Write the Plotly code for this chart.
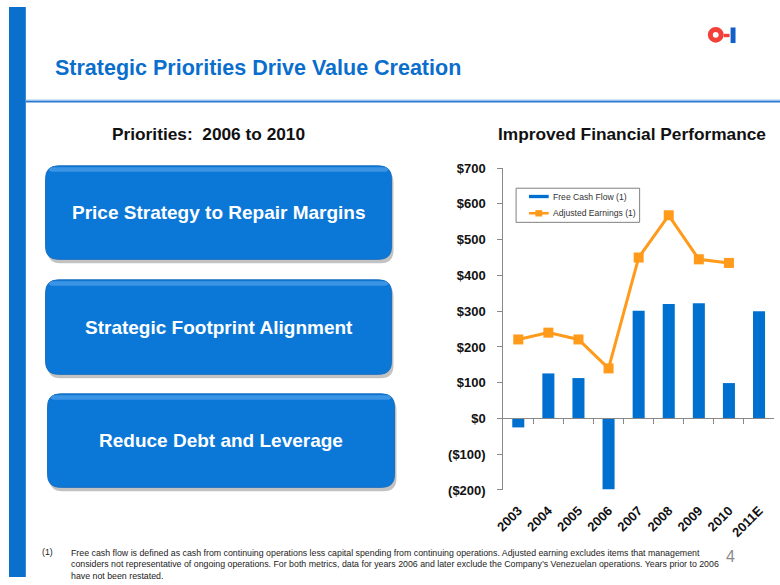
import plotly.graph_objects as go

# ---- data ----
years = ["2003", "2004", "2005", "2006", "2007", "2008", "2009", "2010", "2011E"]
free_cash_flow = [-25, 126, 113, -198, 301, 320, 322, 99, 300]
adjusted_earnings = [221, 240, 221, 140, 450, 568, 445, 435, None]
y_tickvals = [-200, -100, 0, 100, 200, 300, 400, 500, 600, 700]
y_ticktext = ["($200)", "($100)", "$0", "$100", "$200", "$300", "$400", "$500", "$600", "$700"]
series_names = ["Free Cash Flow (1)", "Adjusted Earnings (1)"]
priorities = ["Price Strategy to Repair Margins", "Strategic Footprint Alignment", "Reduce Debt and Leverage"]

W, H = 780, 585
FONT = "Liberation Sans, Arial, sans-serif"
BLUE = "#0070D0"
ORANGE = "#FF9A1A"


def px(x):
    return x / W


def py(y):
    return 1 - y / H


# plot area in pixels
PL, PR, PT, PB = 500, 774, 165.4, 495.7
ymin, ymax = -200, 700
zero_frac = py(PB) + (0 - ymin) / (ymax - ymin) * (py(PT) - py(PB))

fig = go.Figure()
fig.add_trace(go.Bar(
    x=years, y=free_cash_flow, name=series_names[0],
    marker=dict(color=BLUE, line=dict(width=0)), width=0.4, showlegend=False,
))
fig.add_trace(go.Scatter(
    x=years, y=adjusted_earnings, name=series_names[1], mode="lines+markers",
    line=dict(color=ORANGE, width=3), marker=dict(symbol="square", size=10, color=ORANGE),
    connectgaps=False, showlegend=False,
))
# helper trace to activate the zero-line axis
fig.add_trace(go.Scatter(x=[], y=[], xaxis="x2", yaxis="y", showlegend=False, hoverinfo="skip"))


def rrect(x0, y0, x1, y1, r):
    rx, ry = r / W, r / H
    X0, X1 = px(x0), px(x1)
    Y0, Y1 = py(y0), py(y1)  # Y0 top, Y1 bottom (paper)
    return (f"M {X0+rx},{Y0} L {X1-rx},{Y0} Q {X1},{Y0} {X1},{Y0-ry} "
            f"L {X1},{Y1+ry} Q {X1},{Y1} {X1-rx},{Y1} L {X0+rx},{Y1} "
            f"Q {X0},{Y1} {X0},{Y1+ry} L {X0},{Y0-ry} Q {X0},{Y0} {X0+rx},{Y0} Z")


def prect(x0, y0, x1, y1, color, **kw):
    return dict(type="rect", xref="paper", yref="paper", x0=px(x0), x1=px(x1), y0=py(y1), y1=py(y0),
                fillcolor=color, line=dict(width=0), **kw)


shapes = []
# left vertical bar
shapes.append(dict(type="rect", xref="paper", yref="paper", x0=0, x1=px(17), y0=0, y1=1,
                   fillcolor="#0A70CC", line=dict(width=0), layer="below"))
# header rule
shapes.append(dict(type="line", xref="paper", yref="paper", x0=px(17), x1=1, y0=py(97), y1=py(97),
                   line=dict(color="#2A7AD0", width=2)))
shapes.append(dict(type="line", xref="paper", yref="paper", x0=px(17), x1=1, y0=py(95.5), y1=py(95.5),
                   line=dict(color="#9CC4EE", width=1)))
# logo
shapes.append(dict(type="circle", xref="paper", yref="paper", x0=px(709.5), x1=px(720.5), y0=py(23), y1=py(34),
                   fillcolor="white", line=dict(color="#F2403A", width=5)))
shapes.append(prect(723, 27.5, 729, 31, "#F2403A"))
shapes.append(prect(730, 21, 735, 37, "#1060C8"))

boxes = [(37, 163, 387, 259), (37, 280, 387, 377), (39, 397, 390, 493)]
annotations = []
for (x0, y0, x1, y1), label in zip(boxes, priorities):
    shapes.append(dict(type="path", xref="paper", yref="paper", path=rrect(x0 + 2, y0 + 4, x1 + 2, y1 + 4, 13),
                       fillcolor="rgba(80,80,80,0.35)", line=dict(width=0), layer="below"))
    shapes.append(dict(type="path", xref="paper", yref="paper", path=rrect(x0, y0, x1, y1, 13),
                       fillcolor="#0B78D8", line=dict(color="#1A6FC0", width=1), layer="below"))
    shapes.append(dict(type="path", xref="paper", yref="paper", path=rrect(x0 + 3, y0 + 1.5, x1 - 3, y0 + 6, 4),
                       fillcolor="rgba(120,185,245,0.45)", line=dict(width=0), layer="below"))
    annotations.append(dict(text=label, x=px((x0 + x1) / 2), y=py((y0 + y1) / 2), xref="paper", yref="paper",
                            showarrow=False, xanchor="center", yanchor="middle",
                            font=dict(family=FONT, size=19, color="white", weight="bold")))

# legend (drawn by hand to match the compact original)
LX0, LY0, LX1, LY1 = 513, 186, 638, 221
shapes.append(dict(type="rect", xref="paper", yref="paper", x0=px(LX0), x1=px(LX1), y0=py(LY1), y1=py(LY0),
                   fillcolor="white", line=dict(color="#808080", width=1)))
shapes.append(prect(526, 192.8, 546, 196.2, BLUE))
shapes.append(dict(type="line", xref="paper", yref="paper", x0=px(526), x1=px(546), y0=py(211.7), y1=py(211.7),
                   line=dict(color=ORANGE, width=2.5)))
shapes.append(prect(532.5, 208.5, 539.5, 215, ORANGE))
legend_font = dict(family=FONT, size=8.6, color="#333333")
annotations += [
    dict(text=series_names[0], x=px(548), y=py(194.5), xref="paper", yref="paper", showarrow=False,
         xanchor="left", yanchor="middle", font=legend_font),
    dict(text=series_names[1], x=px(548), y=py(211.7), xref="paper", yref="paper", showarrow=False,
         xanchor="left", yanchor="middle", font=legend_font),
]

annotations += [
    dict(text="Strategic Priorities Drive Value Creation", x=px(45), y=py(63), xref="paper", yref="paper",
         showarrow=False, xanchor="left", yanchor="middle",
         font=dict(family=FONT, size=21.5, color="#0A6ECC", weight="bold")),
    dict(text="Priorities:  2006 to 2010", x=px(202), y=py(130), xref="paper", yref="paper",
         showarrow=False, xanchor="center", yanchor="middle",
         font=dict(family=FONT, size=17.3, color="#111111", weight="bold")),
    dict(text="Improved Financial Performance", x=px(630), y=py(130), xref="paper", yref="paper",
         showarrow=False, xanchor="center", yanchor="middle",
         font=dict(family=FONT, size=17.3, color="#111111", weight="bold")),
    dict(text="(1)", x=px(31), y=py(559), xref="paper", yref="paper", showarrow=False,
         xanchor="left", yanchor="middle", font=dict(family=FONT, size=8.8, color="#222222")),
    dict(text=("Free cash flow is defined as cash from continuing operations less capital spending from continuing operations. "
               "Adjusted earning excludes items that management<br>considers not representative of ongoing operations. "
               "For both metrics, data for years 2006 and later exclude the Company\u2019s Venezuelan operations. "
               "Years prior to 2006<br>have not been restated."),
         x=px(61), y=py(553), xref="paper", yref="paper", showarrow=False, align="left",
         xanchor="left", yanchor="top", font=dict(family=FONT, size=8.8, color="#222222")),
    dict(text="4", x=px(730), y=py(564), xref="paper", yref="paper", showarrow=False,
         xanchor="center", yanchor="middle", font=dict(family=FONT, size=16, color="#8A8A8A")),
]

tickfont = dict(family=FONT, size=13, color="#111111", weight="bold")
fig.update_layout(
    margin=dict(l=0, r=0, t=0, b=0),
    paper_bgcolor="white", plot_bgcolor="rgba(0,0,0,0)",
    showlegend=False,
    xaxis=dict(domain=[px(PL), px(PR)], type="category", categoryorder="array", categoryarray=years,
               range=[-0.5, len(years) - 0.5], anchor="y", showline=False, ticks="outside", ticklen=7,
               tickcolor="rgba(0,0,0,0)", showgrid=False, zeroline=False, tickangle=-45, tickfont=tickfont),
    xaxis2=dict(overlaying="x", anchor="free", position=zero_frac, range=[-0.5, len(years) - 0.5],
                tickvals=[i + 0.5 for i in range(len(years) - 1)], ticks="outside", ticklen=5,
                tickcolor="#888888", showticklabels=False, showline=True, linecolor="#888888",
                linewidth=1, showgrid=False, zeroline=False),
    yaxis=dict(domain=[py(PB), py(PT)], range=[ymin, ymax], tickvals=y_tickvals, ticktext=y_ticktext,
               ticks="outside", ticklen=5, tickcolor="#888888", showline=True, linecolor="#888888",
               linewidth=1, showgrid=False, zeroline=False, tickfont=tickfont, ticklabelstandoff=9),
    shapes=shapes, annotations=annotations,
    barmode="overlay",
)

fig.write_html(
    "out.html",
    config={"displayModeBar": False},
    default_width=f"{W}px;position:fixed;left:0px;top:0px;margin:0px",
    default_height=f"{H}px",
    post_script=("document.body.style.margin='0';document.body.style.padding='0';"
                 "document.body.style.overflow='hidden';"),
)
